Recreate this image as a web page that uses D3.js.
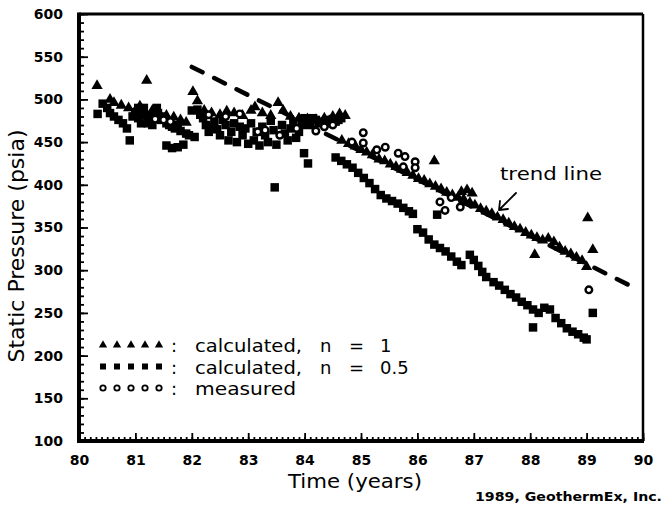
<!DOCTYPE html>
<html>
<head>
<meta charset="utf-8">
<script src="https://cdn.jsdelivr.net/npm/d3@7"></script>
<style>
  body { margin: 0; background: #fff; }
  text { font-family: "DejaVu Sans", sans-serif; fill: #000; }
</style>
</head>
<body>
<div class="chart"></div>
<script>
// tick values
const yearTicks = d3.range(80, 91);
const yearMinor = d3.range(800, 901).map(d => d / 10);
const pressureTicks = d3.range(100, 601, 50);
const pressureMinor = d3.range(100, 601, 10);

// [year, psia]
const calcN1 = [
  [80.32,516],[80.55,500],[80.62,496],[80.75,493],[80.88,490],[81.0,487],[81.08,492],[81.2,522],
  [81.15,485],[81.25,480],[81.35,478],
  [81.3,487],[81.42,484],[81.55,481],[81.68,479],[81.8,476],[81.9,473],
  [82.02,509],[82.1,498],[82.22,487],[82.35,484],[82.5,482],[82.62,486],[82.75,484],[82.9,481],
  [83.05,487],[83.12,491],[83.25,484],[83.4,481],[83.53,496],[83.62,487],[83.75,480],[83.9,478],
  [84.05,477],[84.2,476],[84.35,478],[84.5,480],[84.62,483],[84.72,481],
  [84.66,452],[84.78,448],[84.9,445],[85.0,441],[85.1,438],[85.2,435],[85.32,430],[85.42,428],
  [85.52,424],[85.62,421],[85.72,418],[85.82,414],[85.92,411],[86.02,407],[86.12,405],[86.22,401],
  [86.3,428],[86.32,398],[86.42,395],[86.52,391],[86.62,388],[86.72,385],[86.78,392],[86.82,383],
  [86.88,394],[86.93,379],[86.97,390],[87.02,376],[87.12,372],[87.22,369],[87.32,366],[87.42,362],
  [87.52,359],[87.62,355],[87.72,351],[87.82,348],[87.92,344],[88.02,341],[88.08,318],[88.12,338],
  [88.22,335],[88.32,337],[88.42,333],[88.52,327],[88.62,322],[88.72,319],[88.82,315],[88.92,311],
  [89.0,304],[89.02,361],[89.11,324]
];

const calcN05 = [
  [80.33,483],[80.42,495],[80.5,490],[80.55,484],[80.62,480],[80.7,476],[80.78,472],[80.85,466],
  [80.9,452],[80.95,480],
  [81.0,485],[81.05,478],[81.1,472],[81.15,490],[81.2,482],[81.25,476],[81.3,470],[81.4,484],
  [81.05,490],[81.12,482],[81.22,472],[81.32,480],[81.38,490],[81.45,476],[81.55,472],[81.65,468],
  [81.75,470],
  [81.5,480],[81.6,470],[81.7,466],[81.8,463],[81.9,460],[81.55,446],[81.65,443],[81.75,444],
  [81.85,447],[81.95,458],
  [82.0,487],[82.05,456],[82.1,488],[82.2,478],[82.25,470],[82.3,462],[82.4,474],[82.45,465],
  [82.5,458],[82.6,470],[82.65,452],[82.7,462],[82.8,450],[82.85,468],[82.9,458],[83.0,448],
  [82.15,482],[82.35,468],[82.55,476],[82.75,472],[82.95,466],[83.15,462],[83.3,458],[83.45,464],
  [83.65,460],[83.75,466],[83.85,455],[83.95,470],[84.0,478],[84.15,478],[84.25,472],[84.45,472],
  [84.55,474],[84.65,478],
  [83.05,472],[83.1,452],[83.2,446],[83.25,468],[83.35,450],[83.4,475],[83.47,397],[83.5,447],
  [83.6,470],[83.7,452],[83.8,474],[83.9,462],[83.99,437],[84.06,425],[84.1,470],[84.2,476],
  [84.3,474],[84.4,476],[84.5,477],[84.6,476],
  [84.55,432],[84.65,428],[84.75,424],[84.85,420],[84.95,414],[85.05,408],[85.15,402],[85.25,395],
  [85.35,388],[85.45,384],[85.55,381],[85.65,378],[85.75,373],[85.85,369],[85.92,366],[86.0,348],
  [86.1,344],[86.2,336],[86.3,330],[86.35,365],[86.4,326],[86.5,322],[86.6,316],[86.7,310],
  [86.78,306],[86.93,318],[87.0,312],[87.08,305],[87.15,298],[87.22,292],[87.35,286],[87.45,282],
  [87.55,277],[87.65,272],[87.75,268],[87.85,263],[87.95,259],[88.05,233],[88.05,254],[88.15,250],
  [88.25,256],[88.35,254],[88.45,244],[88.55,238],[88.65,232],[88.75,228],[88.85,225],[88.95,221],
  [89.0,219],[89.11,250]
];

const measured = [
  [81.35,477],[81.5,476],[81.62,474],
  [82.3,482],[82.6,480],[82.85,483],
  [83.17,462],[83.3,464],[83.56,458],[83.86,466],[84.2,463],[84.35,468],[84.5,470],
  [84.84,450],[85.04,461],[85.04,449],[85.28,441],[85.43,444],[85.66,437],[85.75,421],[85.78,433],
  [85.96,427],[85.96,420],[86.4,380],[86.49,370],[86.6,385],[86.76,374],[89.04,277]
];

const trendLine = [[82.0, 538], [89.86, 279]];

const legendItems = [
  { shape: "triangle", label: "calculated,", n: "1" },
  { shape: "square", label: "calculated,", n: "0.5" },
  { shape: "circle", label: "measured", n: null }
];

const width = 665, height = 510;
const x = d3.scaleLinear().domain([80, 90]).range([79, 643]);
const y = d3.scaleLinear().domain([100, 600]).range([441, 14]);

const svg = d3.select(".chart").append("svg")
  .attr("width", width).attr("height", height);

const tri = d3.symbol().type(d3.symbolTriangle).size(55);
const sqr = d3.symbol().type(d3.symbolSquare).size(72);

// trend line
svg.append("path")
  .datum(trendLine)
  .attr("fill", "none")
  .attr("stroke", "#000")
  .attr("stroke-width", 4.5)
  .attr("stroke-linecap", "round")
  .attr("stroke-dasharray", "12,13")
  .attr("d", d3.line().x(d => x(d[0])).y(d => y(d[1])));

// markers
svg.append("g").selectAll("path")
  .data(calcN05).enter().append("path")
  .attr("transform", d => `translate(${x(d[0])},${y(d[1])})`)
  .attr("d", sqr);

svg.append("g").selectAll("path")
  .data(calcN1).enter().append("path")
  .attr("transform", d => `translate(${x(d[0])},${y(d[1])})`)
  .attr("d", tri);

svg.append("g").selectAll("circle")
  .data(measured).enter().append("circle")
  .attr("cx", d => x(d[0]))
  .attr("cy", d => y(d[1]))
  .attr("r", 3.3)
  .attr("fill", "#fff")
  .attr("stroke", "#000")
  .attr("stroke-width", 2.4);

// axes
var yAxis = g => g
  .attr("transform", `translate(${x(80)},0)`)
  .call(d3.axisLeft(y).tickValues(pressureTicks).tickSize(-9).tickPadding(16).tickFormat(d3.format("d")))
  .call(g => g.select(".domain").remove());

var yMinor = g => g
  .attr("transform", `translate(${x(80)},0)`)
  .call(d3.axisLeft(y).tickValues(pressureMinor).tickSize(-5).tickFormat(""))
  .call(g => g.select(".domain").remove());

var xAxis = g => g
  .attr("transform", `translate(0,${y(100)})`)
  .call(d3.axisBottom(x).tickValues(yearTicks).tickSize(-8).tickPadding(14).tickFormat(d3.format("d")))
  .call(g => g.select(".domain").remove());

var xMinor = g => g
  .attr("transform", `translate(0,${y(100)})`)
  .call(d3.axisBottom(x).tickValues(yearMinor).tickSize(-4).tickFormat(""))
  .call(g => g.select(".domain").remove());

[yMinor, yAxis, xMinor, xAxis].forEach(a => {
  svg.append("g").call(a)
    .call(g => g.selectAll("line").attr("stroke", "#000").attr("stroke-width", 1.8))
    .call(g => g.selectAll("text")
      .style("font-family", "'DejaVu Sans', sans-serif")
      .style("font-weight", "bold")
      .style("font-size", "14px")
      .attr("fill", "#000"));
});

// frame
svg.append("line").attr("x1", x(80)).attr("x2", x(90)).attr("y1", y(600)).attr("y2", y(600))
  .attr("stroke", "#000").attr("stroke-width", 3);
svg.append("line").attr("x1", x(90)).attr("x2", x(90)).attr("y1", y(600)).attr("y2", y(100))
  .attr("stroke", "#000").attr("stroke-width", 2.5);
svg.append("line").attr("x1", x(80)).attr("x2", x(80)).attr("y1", y(600) - 1.5).attr("y2", y(100) + 2)
  .attr("stroke", "#000").attr("stroke-width", 4);
svg.append("line").attr("x1", x(80) - 2).attr("x2", x(90) + 1).attr("y1", y(100)).attr("y2", y(100))
  .attr("stroke", "#000").attr("stroke-width", 4);

// axis titles
svg.append("text")
  .attr("transform", `translate(24,${246}) rotate(-90)`)
  .attr("text-anchor", "middle")
  .attr("textLength", 233).attr("lengthAdjust", "spacingAndGlyphs")
  .style("font-size", "21px")
  .text("Static Pressure (psia)");

svg.append("text")
  .attr("x", 288).attr("y", 488)
  .attr("textLength", 134).attr("lengthAdjust", "spacingAndGlyphs")
  .style("font-size", "20px")
  .text("Time (years)");

svg.append("text")
  .attr("x", 475).attr("y", 501)
  .attr("textLength", 187).attr("lengthAdjust", "spacingAndGlyphs")
  .style("font-size", "13px").style("font-weight", "bold")
  .text("1989, GeothermEx, Inc.");

// trend label and arrow
svg.append("text")
  .attr("x", 500).attr("y", 180)
  .attr("textLength", 102).attr("lengthAdjust", "spacingAndGlyphs")
  .style("font-size", "18px")
  .text("trend line");

svg.append("path")
  .attr("d", "M516,193 L499,210 M499,210 L500,201 M499,210 L508,209")
  .attr("fill", "none").attr("stroke", "#000").attr("stroke-width", 1.8)
  .attr("stroke-linecap", "round");

// legend
const lg = svg.append("g");
const legendMarkX = [103, 117, 131, 145, 159];
legendItems.forEach((item, i) => {
  const cy = 345 + i * 21.5;
  const row = lg.append("g");
  legendMarkX.forEach(mx => {
    if (item.shape === "triangle") {
      row.append("path").attr("transform", `translate(${mx},${cy})`)
        .attr("d", d3.symbol().type(d3.symbolTriangle).size(30));
    } else if (item.shape === "square") {
      row.append("path").attr("transform", `translate(${mx},${cy})`)
        .attr("d", d3.symbol().type(d3.symbolSquare).size(36));
    } else {
      row.append("circle").attr("cx", mx).attr("cy", cy).attr("r", 2.7)
        .attr("fill", "#fff").attr("stroke", "#000").attr("stroke-width", 1.8);
    }
  });
  const base = cy + 7;
  row.append("text").attr("x", 171).attr("y", base).style("font-size", "18px").text(":");
  row.append("text").attr("x", 195).attr("y", base)
    .attr("textLength", item.n ? 107 : 101).attr("lengthAdjust", "spacingAndGlyphs")
    .style("font-size", "18px").text(item.label);
  if (item.n) {
    row.append("text").attr("x", 320).attr("y", base).style("font-size", "18px").text("n");
    row.append("text").attr("x", 349).attr("y", base).style("font-size", "18px").text("=");
    row.append("text").attr("x", 380).attr("y", base).style("font-size", "18px").text(item.n);
  }
});
</script>
</body>
</html>
